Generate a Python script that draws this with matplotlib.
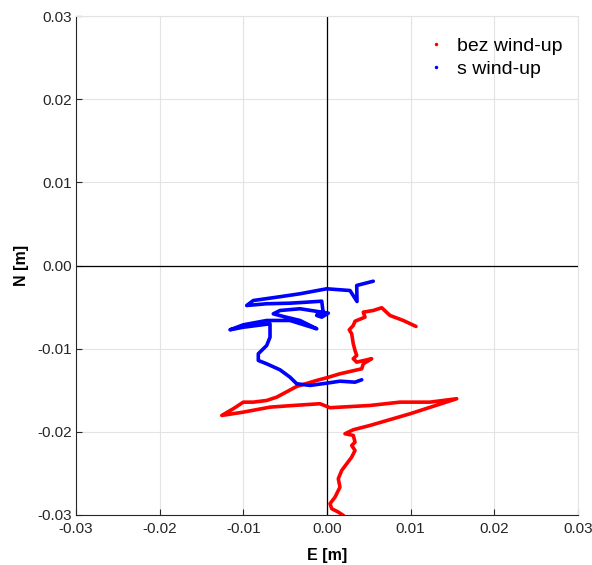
import matplotlib
matplotlib.use("Agg")
import matplotlib.pyplot as plt
from matplotlib.lines import Line2D

plt.rcParams['font.family'] = ['Liberation Sans', 'DejaVu Sans']

# trajectory without wind-up (red), metres
bez_e = [0.01064, 0.00912, 0.00753, 0.00654, 0.00553, 0.00434, 0.00454, 0.00335, 0.00314, 0.00266,
         0.00295, 0.00314, 0.00335, 0.00355, 0.00314, 0.00355, 0.00534, 0.00434, 0.00415, 0.00155,
         -0.00004, -0.00123, -0.00362, -0.00601, -0.00721, -0.00881, -0.01000, -0.01120, -0.01258, -0.01000,
         -0.00681, -0.00403, -0.00084, 0.00036, 0.00514, 0.00872, 0.01231, 0.01550, 0.00992, 0.00514,
         0.00314, 0.00215, 0.00314, 0.00335, 0.00295, 0.00335, 0.00295, 0.00176, 0.00135, 0.00155,
         0.00096, 0.00036, 0.00056, 0.00135, 0.00195]
bez_n = [-0.00733, -0.00661, -0.00601, -0.00508, -0.00541, -0.00561, -0.00621, -0.00670, -0.00721, -0.00773,
         -0.00821, -0.00941, -0.01022, -0.01082, -0.01121, -0.01162, -0.01121, -0.01182, -0.01242, -0.01302,
         -0.01350, -0.01382, -0.01454, -0.01583, -0.01623, -0.01643, -0.01643, -0.01722, -0.01803, -0.01763,
         -0.01703, -0.01683, -0.01662, -0.01710, -0.01683, -0.01643, -0.01643, -0.01602, -0.01783, -0.01923,
         -0.01975, -0.02023, -0.02043, -0.02124, -0.02164, -0.02224, -0.02304, -0.02464, -0.02564, -0.02665,
         -0.02785, -0.02864, -0.02924, -0.02965, -0.03005]

# trajectory with wind-up (blue), metres
s_e = [0.00553, 0.00355, 0.00359, 0.00275, -0.00004, -0.00323, -0.00601, -0.00881, -0.00960, -0.00721,
       -0.00442, -0.00243, -0.00063, -0.00044, -0.00104, -0.00123, -0.00063, 0.00016, -0.00323, -0.00562,
       -0.00642, -0.00522, -0.00323, -0.00123, -0.00442, -0.00721, -0.01000, -0.01159, -0.01000, -0.00681,
       -0.00681, -0.00721, -0.00821, -0.00821, -0.00721, -0.00562, -0.00442, -0.00362, -0.00203, -0.00004,
       0.00155, 0.00335, 0.00415]
s_n = [-0.00189, -0.00240, -0.00433, -0.00301, -0.00280, -0.00340, -0.00381, -0.00421, -0.00481, -0.00460,
       -0.00453, -0.00441, -0.00429, -0.00581, -0.00561, -0.00601, -0.00621, -0.00573, -0.00520, -0.00541,
       -0.00581, -0.00613, -0.00661, -0.00761, -0.00661, -0.00661, -0.00713, -0.00773, -0.00742, -0.00701,
       -0.00862, -0.00962, -0.01061, -0.01142, -0.01182, -0.01254, -0.01343, -0.01422, -0.01442, -0.01415,
       -0.01391, -0.01403, -0.01374]

ticks = [-0.03, -0.02, -0.01, 0.00, 0.01, 0.02, 0.03]
tick_labels = ['-0.03', '-0.02', '-0.01', '0.00', '0.01', '0.02', '0.03']

fig = plt.figure(figsize=(5.92, 5.65), dpi=100)
ax = fig.add_axes([76/592, 50/565, 502/592, 499/565])

ax.axhline(0, color='black', lw=0.9, zorder=1)
ax.axvline(0, color='black', lw=0.9, zorder=1)

ax.plot(bez_e, bez_n, color='#ff0000', lw=2.6, solid_capstyle='round', solid_joinstyle='round', zorder=3)
ax.plot(s_e, s_n, color='#0000ff', lw=2.6, solid_capstyle='round', solid_joinstyle='round', zorder=4)

ax.set_xlim(-0.03, 0.03)
ax.set_ylim(-0.03, 0.03)
ax.set_xticks(ticks)
ax.set_xticklabels(tick_labels)
ax.set_yticks(ticks)
ax.set_yticklabels(tick_labels)
ax.grid(True, color='#e3e3e3', lw=0.8, zorder=0)
ax.set_axisbelow(True)
for s in ['top', 'right']:
    ax.spines[s].set_color('#e3e3e3')
    ax.spines[s].set_linewidth(0.8)
for s in ['bottom', 'left']:
    ax.spines[s].set_color('#262626')
    ax.spines[s].set_linewidth(0.8)
ax.tick_params(direction='in', length=4, width=0.8, colors='#262626', labelsize=11, pad=3)
ax.tick_params(axis='x', pad=5)

ax.set_xlabel('E [m]', fontweight='bold', fontsize=11.5, labelpad=9)
ax.set_ylabel('N [m]', fontweight='bold', fontsize=11.5, labelpad=6)

handles = [Line2D([], [], marker='.', ls='none', color='#ff0000', ms=3),
           Line2D([], [], marker='.', ls='none', color='#0000ff', ms=3)]
ax.legend(handles, ['bez wind-up', 's wind-up'], loc='upper right', frameon=False,
          fontsize=14, handlelength=1.2, handletextpad=0.45, labelspacing=0.3,
          bbox_to_anchor=(1.003, 0.993))

fig.savefig('out.png', dpi=100)
